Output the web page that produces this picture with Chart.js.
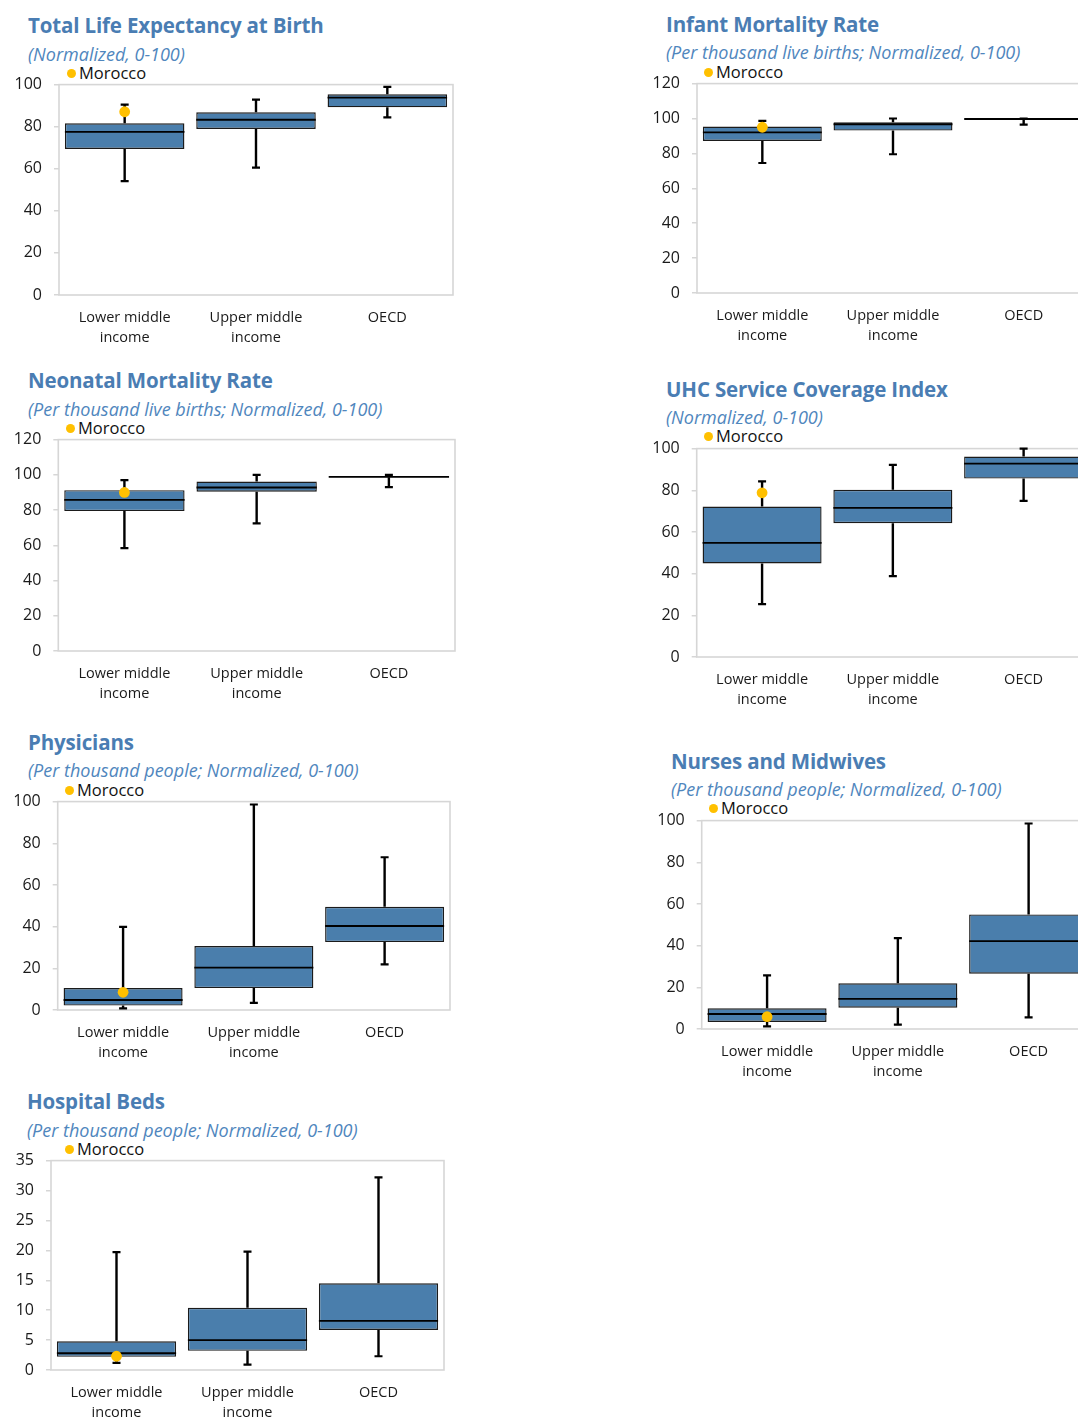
<!DOCTYPE html>
<html>
<head>
<meta charset="utf-8">
<title>Health indicators: Morocco vs income groups</title>
<script src="https://cdn.jsdelivr.net/npm/chart.js@4.4.1/dist/chart.umd.min.js"></script>
<style>
  html, body { margin: 0; padding: 0; background: #fff; }
  body { position: relative; width: 1078px; height: 1418px; overflow: hidden; }
  canvas { position: absolute; }
  .ptitle { position: absolute; font-family: 'Open Sans', sans-serif; font-weight: 700; font-size: 20.5px;
            line-height: 24px; color: #4a7db3; white-space: nowrap; letter-spacing: -0.15px; }
  .psub { position: absolute; font-family: 'Open Sans', sans-serif; font-style: italic; font-size: 18px;
          line-height: 24px; color: #4f86bd; white-space: nowrap; }
  .plegend { position: absolute; font-family: 'Open Sans', sans-serif; font-size: 16.5px; line-height: 20px;
             color: #111; white-space: nowrap; }
  .plegend .dot { position: absolute; width: 9px; height: 9px; border-radius: 50%; background: #ffc000; top: 6px; }
</style>
</head>
<body>
<script>
// Income groups on the x axis
const groupLabels = [['Lower middle', 'income'], ['Upper middle', 'income'], 'OECD'];

// Total life expectancy at birth (normalized 0-100)
const lifeMin    = [54.1, 60.5, 84.4];
const lifeQ1     = [69.4, 78.9, 89.2];
const lifeMedian = [77.5, 83.3, 93.8];
const lifeQ3     = [81.6, 86.8, 95.4];
const lifeMax    = [90.5, 92.9, 98.9];
const lifeMorocco = 87.1;

// Infant mortality rate (normalized 0-100)
const infantMin    = [74.5, 79.5, 96.5];
const infantQ1     = [87.1, 93.1, 99.5];
const infantMedian = [92.1, 96.7, 99.7];
const infantQ3     = [95.4, 97.8, 99.9];
const infantMax    = [98.6, 100, 100];
const infantMorocco = 95.0;

// Neonatal mortality rate (normalized 0-100)
const neoMin    = [58.4, 72.4, 93.0];
const neoQ1     = [79.4, 90.4, 98.6];
const neoMedian = [85.8, 92.8, 98.8];
const neoQ3     = [91.3, 96.2, 99.0];
const neoMax    = [97.0, 100, 100];
const neoMorocco = 90.0;

// UHC service coverage index (normalized 0-100)
const uhcMin    = [25.4, 38.8, 74.9];
const uhcQ1     = [44.9, 64.2, 85.6];
const uhcMedian = [54.8, 71.6, 92.8];
const uhcQ3     = [72.2, 80.2, 96.2];
const uhcMax    = [84.3, 92.2, 100];
const uhcMorocco = 78.8;

// Physicians per thousand people (normalized 0-100)
const physMin    = [0.8, 3.4, 21.9];
const physQ1     = [2.1, 10.5, 32.6];
const physMedian = [4.8, 20.3, 40.3];
const physQ3     = [10.5, 30.7, 49.5];
const physMax    = [39.9, 98.6, 73.3];
const physMorocco = 8.5;

// Nurses and midwives per thousand people (normalized 0-100)
const nurseMin    = [1.3, 2.1, 5.6];
const nurseQ1     = [3.4, 10.2, 26.5];
const nurseMedian = [7.2, 14.5, 42.2];
const nurseQ3     = [9.9, 21.9, 55.0];
const nurseMax    = [25.7, 43.6, 98.6];
const nurseMorocco = 5.9;

// Hospital beds per thousand people (normalized 0-100)
const bedsMin    = [1.2, 0.9, 2.3];
const bedsQ1     = [2.2, 3.2, 6.7];
const bedsMedian = [2.8, 5.0, 8.2];
const bedsQ3     = [4.8, 10.4, 14.5];
const bedsMax    = [19.7, 19.8, 32.2];
const bedsMorocco = 2.3;

// Panel texts and axis ranges
const panelTitles = ['Total Life Expectancy at Birth', 'Infant Mortality Rate', 'Neonatal Mortality Rate',
  'UHC Service Coverage Index', 'Physicians', 'Nurses and Midwives', 'Hospital Beds'];
const panelSubtitles = ['(Normalized, 0-100)', '(Per thousand live births; Normalized, 0-100)',
  '(Per thousand live births; Normalized, 0-100)', '(Normalized, 0-100)',
  '(Per thousand people; Normalized, 0-100)', '(Per thousand people; Normalized, 0-100)',
  '(Per thousand people; Normalized, 0-100)'];
const axisMax  = [100, 120, 120, 100, 100, 100, 35];
const axisStep = [20, 20, 20, 20, 20, 20, 5];
const legendLabel = 'Morocco';

const stats = [
  [lifeMin, lifeQ1, lifeMedian, lifeQ3, lifeMax, lifeMorocco],
  [infantMin, infantQ1, infantMedian, infantQ3, infantMax, infantMorocco],
  [neoMin, neoQ1, neoMedian, neoQ3, neoMax, neoMorocco],
  [uhcMin, uhcQ1, uhcMedian, uhcQ3, uhcMax, uhcMorocco],
  [physMin, physQ1, physMedian, physQ3, physMax, physMorocco],
  [nurseMin, nurseQ1, nurseMedian, nurseQ3, nurseMax, nurseMorocco],
  [bedsMin, bedsQ1, bedsMedian, bedsQ3, bedsMax, bedsMorocco]
];

// Page layout: plot-area rectangle and text anchors for each panel
const layout = [
  { canvasLeft: 0,   area: [59, 85, 453, 295],        titleX: 29,  titleY: 25,   subY: 54,   legY: 73,   dotX: 71 },
  { canvasLeft: 637, area: [697, 83.3, 1089, 292.7],  titleX: 667, titleY: 24,   subY: 52,   legY: 72,   dotX: 708 },
  { canvasLeft: 0,   area: [58.3, 440, 455, 651.7],   titleX: 29,  titleY: 380,  subY: 409,  legY: 428,  dotX: 70 },
  { canvasLeft: 637, area: [696.7, 448.7, 1089, 657.3], titleX: 667, titleY: 389, subY: 417, legY: 436, dotX: 708 },
  { canvasLeft: 0,   area: [57.7, 801.7, 450, 1010.3], titleX: 29, titleY: 742,  subY: 770,  legY: 790,  dotX: 69 },
  { canvasLeft: 637, area: [701.7, 820.7, 1094, 1029.3], titleX: 672, titleY: 761, subY: 789, legY: 808, dotX: 713 },
  { canvasLeft: 0,   area: [51, 1160.7, 444, 1370],    titleX: 28,  titleY: 1101, subY: 1130, legY: 1149, dotX: 69 }
];

const FONT = "'Open Sans', sans-serif";
Chart.defaults.font.family = FONT;
Chart.defaults.color = '#1a1a1a';

// Plot frame, whiskers and medians drawn with the chart's own scales
const boxPlotPlugin = {
  id: 'boxPlot',
  beforeDatasetsDraw(chart) {
    const a = chart.chartArea, ctx = chart.ctx;
    ctx.save();
    ctx.strokeStyle = '#d6d6d6';
    ctx.lineWidth = 1.6;
    ctx.strokeRect(a.left, a.top, a.right - a.left, a.bottom - a.top);
    ctx.restore();
  },
  afterDatasetDraw(chart, args) {
    const ds = chart.data.datasets[args.index];
    if (!ds.medians) return;
    const y = chart.scales.y, ctx = chart.ctx;
    ctx.save();
    ctx.strokeStyle = '#000';
    args.meta.data.forEach((bar, i) => {
      const x = bar.x, half = bar.width / 2;
      const pMin = y.getPixelForValue(ds.whiskerMin[i]);
      const pMax = y.getPixelForValue(ds.whiskerMax[i]);
      const pQ1 = y.getPixelForValue(ds.data[i][0]);
      const pQ3 = y.getPixelForValue(ds.data[i][1]);
      const pMed = y.getPixelForValue(ds.medians[i]);
      ctx.lineWidth = 2.4;
      ctx.beginPath();
      ctx.moveTo(x, pQ1); ctx.lineTo(x, pMin);
      ctx.moveTo(x, pQ3); ctx.lineTo(x, pMax);
      ctx.stroke();
      ctx.lineWidth = 2.2;
      ctx.beginPath();
      ctx.moveTo(x - 4, pMin); ctx.lineTo(x + 4, pMin);
      ctx.moveTo(x - 4, pMax); ctx.lineTo(x + 4, pMax);
      ctx.stroke();
      ctx.lineWidth = 1.8;
      ctx.beginPath();
      ctx.moveTo(x - half, pMed); ctx.lineTo(x + half, pMed);
      ctx.stroke();
    });
    ctx.restore();
  }
};

function addText(cls, text, x, cy, h) {
  const el = document.createElement('div');
  el.className = cls;
  el.textContent = text;
  el.style.left = x + 'px';
  el.style.top = (cy - h / 2) + 'px';
  document.body.appendChild(el);
  return el;
}

stats.forEach((s, k) => {
  const L = layout[k];
  const [aL, aT, aR, aB] = L.area;
  const axisW = aL - L.canvasLeft;
  const padTop = 12, padRight = 10, xAxisH = 58;
  const cw = Math.round(axisW + (aR - aL) + padRight);
  const ch = Math.round(padTop + (aB - aT) + xAxisH);

  addText('ptitle', panelTitles[k], L.titleX - 1, L.titleY, 24);
  addText('psub', panelSubtitles[k], L.titleX - 1, L.subY, 24);
  const leg = addText('plegend', legendLabel, L.dotX + 8, L.legY, 20);
  const dot = document.createElement('span');
  dot.className = 'dot';
  dot.style.left = '-12.5px';
  leg.appendChild(dot);

  const canvas = document.createElement('canvas');
  canvas.width = cw;
  canvas.height = ch;
  canvas.style.left = L.canvasLeft + 'px';
  canvas.style.top = (aT - padTop) + 'px';
  canvas.style.width = cw + 'px';
  canvas.style.height = ch + 'px';
  document.body.appendChild(canvas);

  const [mins, q1s, meds, q3s, maxs, morocco] = s;
  const chart = new Chart(canvas, {
    type: 'bar',
    data: {
      labels: groupLabels,
      datasets: [
        {
          type: 'line',
          label: legendLabel,
          data: [morocco, null, null],
          showLine: false,
          pointRadius: 5.4,
          pointBackgroundColor: '#ffc000',
          pointBorderWidth: 0,
          order: 0
        },
        {
          type: 'bar',
          label: 'Distribution',
          data: q1s.map((q, i) => [q, q3s[i]]),
          medians: meds,
          whiskerMin: mins,
          whiskerMax: maxs,
          backgroundColor: '#4a7eac',
          borderColor: '#1b1b1b',
          borderWidth: 1.4,
          borderSkipped: false,
          barPercentage: 0.91,
          categoryPercentage: 1.0,
          order: 1
        }
      ]
    },
    options: {
      responsive: false,
      maintainAspectRatio: false,
      animation: false,
      devicePixelRatio: 1,
      layout: { padding: { top: padTop, right: padRight, left: 0, bottom: 0 } },
      plugins: { legend: { display: false }, tooltip: { enabled: false } },
      scales: {
        x: {
          grid: { display: false, drawTicks: false },
          border: { display: false },
          ticks: { font: { size: 14.5, lineHeight: 1.38 }, color: '#1a1a1a', padding: 13, maxRotation: 0 },
          afterFit(scale) { scale.height = xAxisH; }
        },
        y: {
          min: 0,
          max: axisMax[k],
          grid: { drawOnChartArea: false, drawTicks: true, tickLength: 5, color: '#d6d6d6', lineWidth: 1.5 },
          border: { display: false },
          ticks: { stepSize: axisStep[k], font: { size: 16 }, color: '#1a1a1a', padding: 12 },
          afterFit(scale) { scale.width = axisW; }
        }
      }
    },
    plugins: [boxPlotPlugin]
  });

  // Keep the plot area at its intended height and page position
  const ca = chart.chartArea;
  const dh = (aB - aT) - (ca.bottom - ca.top);
  if (Math.abs(dh) > 0.25) {
    const nh = Math.round(ch + dh);
    canvas.style.height = nh + 'px';
    chart.resize(cw, nh);
  }
  canvas.style.top = (aT - chart.chartArea.top) + 'px';
});
</script>
</body>
</html>
